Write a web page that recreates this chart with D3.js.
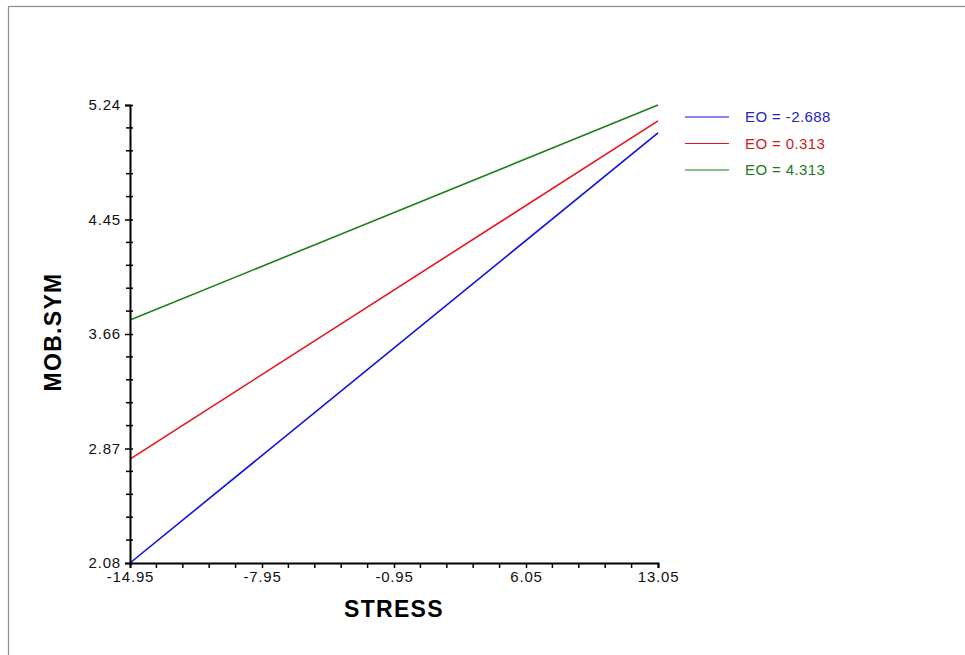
<!DOCTYPE html>
<html>
<head>
<meta charset="utf-8">
<script src="https://cdn.jsdelivr.net/npm/d3@7"></script>
<style>
  html, body { margin: 0; padding: 0; background: #fff; }
  svg { display: block; font-family: "Liberation Sans", Arial, sans-serif; }
</style>
</head>
<body>
<svg id="chart" width="965" height="655"></svg>
<script>
// Simple slopes of MOB.SYM on STRESS at three levels of EO
const stressRange = [-14.95, 13.05];
const eoLabels = ["EO = -2.688", "EO = 0.313", "EO = 4.313"];
const startValues = [2.08, 2.797, 3.756];   // MOB.SYM at STRESS = -14.95
const endValues = [5.047, 5.13, 5.24];      // MOB.SYM at STRESS = 13.05
const lineColors = ["#1010e0", "#e8141c", "#1a7f1a"];
const textColors = ["#2323c8", "#d31a1a", "#217a21"];
const xTicks = [-14.95, -7.95, -0.95, 6.05, 13.05];
const yTicks = [2.08, 2.87, 3.66, 4.45, 5.24];

const svg = d3.select("#chart");

// outer frame
svg.append("rect")
  .attr("x", 8.5).attr("y", 6.5)
  .attr("width", 1000).attr("height", 1000)
  .attr("fill", "none").attr("stroke", "#8c8c8c").attr("stroke-width", 1.2);

const x = d3.scaleLinear().domain(stressRange).range([130, 658]);
const y = d3.scaleLinear().domain([2.08, 5.24]).range([563, 105]);

// minor ticks: 5 intervals between major ticks
function minorTicks(major) {
  const out = [];
  for (let i = 0; i < major.length - 1; i++) {
    const step = (major[i + 1] - major[i]) / 5;
    for (let k = 1; k < 5; k++) out.push(major[i] + step * k);
  }
  return out;
}

const fmt = d => d.toFixed(2);
const g = svg.append("g");

// lines
const series = eoLabels.map((lab, i) => ({
  label: lab,
  pts: [[stressRange[0], startValues[i]], [stressRange[1], endValues[i]]],
  color: lineColors[i],
  text: textColors[i]
}));

const line = d3.line().x(d => x(d[0])).y(d => y(d[1]));
g.selectAll("path.series").data(series).join("path")
  .attr("class", "series")
  .attr("d", d => line(d.pts))
  .attr("fill", "none")
  .attr("stroke", d => d.color)
  .attr("stroke-width", 1.6);

// axes
const xAxis = d3.axisBottom(x).tickValues(xTicks).tickSize(5).tickFormat(fmt);
const yAxis = d3.axisLeft(y).tickValues(yTicks).tickSize(5).tickFormat(fmt);

const gx = g.append("g").attr("transform", `translate(0,${y(2.08)})`).call(xAxis)
  .attr("font-size", 15).attr("font-family", "Liberation Sans, Arial, sans-serif");
gx.select(".domain").attr("stroke", "#000").attr("stroke-width", 2);
gx.selectAll(".tick line").attr("stroke", "#000").attr("stroke-width", 1.5);
gx.selectAll(".tick text")
  .style("font-size", "15px").style("letter-spacing", "0.8px")
  .attr("fill", "#111").attr("y", 8).attr("dy", "0.71em");

gx.selectAll(".minor").data(minorTicks(xTicks)).join("line")
  .attr("class", "minor")
  .attr("x1", d => x(d)).attr("x2", d => x(d))
  .attr("y1", 0).attr("y2", 5)
  .attr("stroke", "#000").attr("stroke-width", 1.5);

const gy = g.append("g").attr("transform", `translate(${x(-14.95)},0)`).call(yAxis)
  .attr("font-size", 15).attr("font-family", "Liberation Sans, Arial, sans-serif");
gy.select(".domain").attr("stroke", "#000").attr("stroke-width", 2);
gy.selectAll(".tick line").attr("stroke", "#000").attr("stroke-width", 1.5).attr("x2", 3).attr("x1", -5);
gy.selectAll(".tick text")
  .style("font-size", "15px").style("letter-spacing", "0.8px")
  .attr("fill", "#111").attr("x", -9).attr("dy", "0.3em");

gy.selectAll(".minor").data(minorTicks(yTicks)).join("line")
  .attr("class", "minor")
  .attr("y1", d => y(d)).attr("y2", d => y(d))
  .attr("x1", -4).attr("x2", 3)
  .attr("stroke", "#000").attr("stroke-width", 1.5);

gx.select(".domain").raise();
gy.select(".domain").raise();

// axis titles
svg.append("text")
  .attr("x", 394).attr("y", 617)
  .attr("text-anchor", "middle")
  .style("font-size", "23px").style("letter-spacing", "1.3px")
  .attr("font-weight", "bold").attr("fill", "#000")
  .text("STRESS");

svg.append("text")
  .attr("transform", "translate(61,332) rotate(-90)")
  .attr("text-anchor", "middle")
  .style("font-size", "23px").style("letter-spacing", "1.3px")
  .attr("font-weight", "bold").attr("fill", "#000")
  .text("MOB.SYM");

// legend
const legend = svg.append("g").selectAll("g").data(series).join("g")
  .attr("transform", (d, i) => `translate(685,${117 + i * 26.5})`);
legend.append("line")
  .attr("x1", 0).attr("x2", 44).attr("y1", 0).attr("y2", 0)
  .attr("stroke", d => d.color).attr("stroke-width", 1.2);
legend.append("text")
  .attr("x", 60).attr("y", 0).attr("dy", "0.36em")
  .style("font-size", "15px").style("letter-spacing", "0.4px")
  .attr("fill", d => d.text)
  .text(d => d.label);
</script>
</body>
</html>
